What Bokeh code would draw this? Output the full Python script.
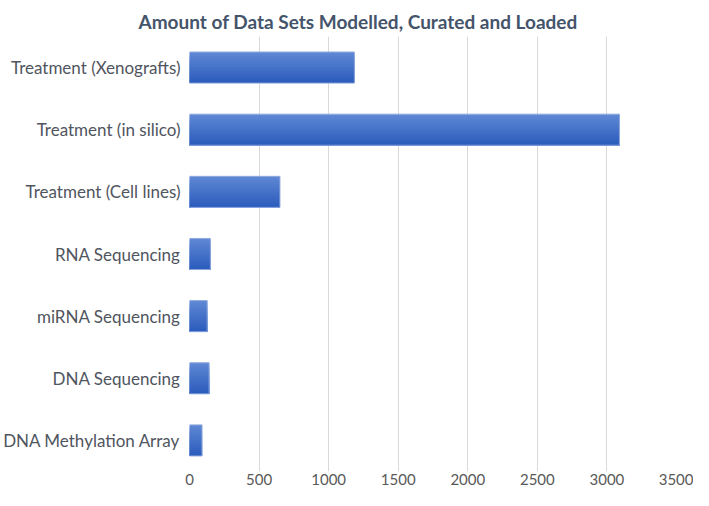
from bokeh.plotting import figure
from bokeh.models import ColumnDataSource, FixedTicker, FactorRange, Range1d
from bokeh.transform import dodge
from bokeh.embed import file_html
from bokeh.resources import INLINE

categories = ["Treatment (Xenografts)", "Treatment (in silico)", "Treatment (Cell lines)",
              "RNA Sequencing", "miRNA Sequencing", "DNA Sequencing", "DNA Methylation Array"]
counts = [1185, 3090, 650, 150, 127, 141, 90]
x_ticks = [0, 500, 1000, 1500, 2000, 2500, 3000, 3500]

src = ColumnDataSource(dict(cat=categories, val=counts))

p = figure(width=693, height=490, output_backend="svg", toolbar_location=None,
           y_range=FactorRange(factors=categories[::-1], range_padding=0),
           x_range=Range1d(0, 3500),
           min_border_left=187, min_border_right=17, min_border_top=36, min_border_bottom=19)

p.title.text = "Amount of Data Sets Modelled, Curated and Loaded"
p.title.text_font = "Lato"
p.title.text_font_size = "19px"
p.title.text_font_style = "bold"
p.title.text_color = "#44546a"
p.title.align = "left"
p.title.offset = -51
p.title.standoff = 8

# gradient bars: overlapping strips, each running from its top edge to the bar bottom
n = 16
bar_h = 0.5
top_c = (0x5e, 0x87, 0xd4)
bot_c = (0x2c, 0x5c, 0xbc)
for i in range(n):
    t = i / (n - 1)
    c = tuple(int(round(top_c[k] + (bot_c[k] - top_c[k]) * t)) for k in range(3))
    col = "#%02x%02x%02x" % c
    h = bar_h * (n - i) / n
    off = bar_h / 2 - i * bar_h / n - h / 2
    p.hbar(y=dodge("cat", off, range=p.y_range), right="val", left=0,
           height=h, source=src, fill_color=col, line_color=None)
p.hbar(y="cat", right="val", left=0, height=bar_h, source=src,
       fill_color=None, line_color="#8eaadf", line_width=1)

p.xgrid.grid_line_color = "#d9d9d9"
p.xgrid.grid_line_width = 1
p.ygrid.grid_line_color = None
p.outline_line_color = None

p.xaxis.ticker = FixedTicker(ticks=x_ticks)
p.xaxis.axis_line_color = None
p.xaxis.major_tick_line_color = None
p.xaxis.minor_tick_line_color = None
p.xaxis.major_tick_out = 0
p.xaxis.major_tick_in = 0
p.xaxis.minor_tick_out = 0
p.xaxis.major_label_text_font = "Lato"
p.xaxis.major_label_text_font_size = "15px"
p.xaxis.major_label_text_color = "#595959"
p.xaxis.major_label_standoff = 2

p.yaxis.axis_line_color = None
p.yaxis.major_tick_line_color = None
p.yaxis.minor_tick_line_color = None
p.yaxis.major_tick_out = 0
p.yaxis.major_tick_in = 0
p.yaxis.minor_tick_out = 0
p.yaxis.major_label_text_font = "Lato"
p.yaxis.major_label_text_font_size = "17px"
p.yaxis.major_label_text_color = "#505560"
p.yaxis.major_label_standoff = 9

open("out.html", "w").write(file_html(p, INLINE))
